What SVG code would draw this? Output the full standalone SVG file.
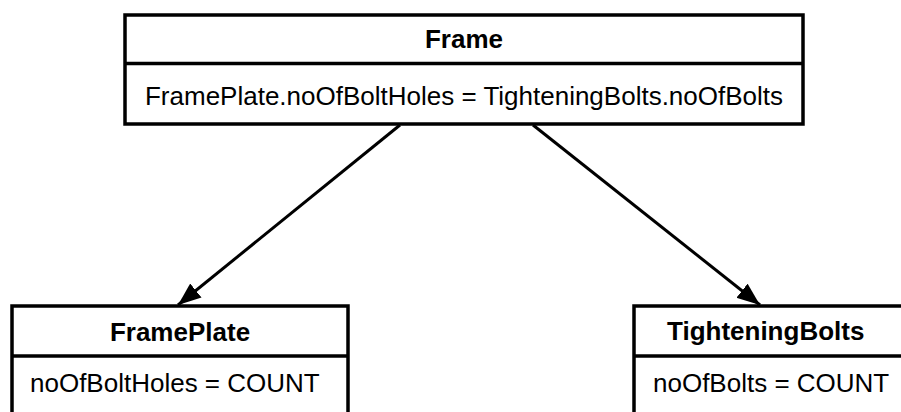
<svg xmlns="http://www.w3.org/2000/svg" width="901" height="412" viewBox="0 0 901 412">
  <defs>
    <style>
      .box { fill: #ffffff; stroke: #000000; stroke-width: 3.5; }
      .div { stroke: #000000; stroke-width: 3.5; }
      .title { font-family: "Liberation Sans", Arial, sans-serif; font-size: 26px; font-weight: bold; fill: #000000; }
      .attr { font-family: "Liberation Sans", Arial, sans-serif; font-size: 26px; fill: #000000; }
      .link { stroke: #000000; stroke-width: 3; fill: none; marker-end: url(#arrow); }
    </style>
    <marker id="arrow" markerUnits="userSpaceOnUse" markerWidth="24" markerHeight="20" refX="23" refY="9" orient="auto">
      <path d="M0,0 L23,9 L0,18 Z" fill="#000000"/>
    </marker>
  </defs>

  <!-- connectors -->
  <g id="connectors">
    <line class="link" x1="400" y1="125" x2="178" y2="305"/>
    <line class="link" x1="533" y1="125" x2="760" y2="305"/>
  </g>

  <!-- Frame -->
  <g id="frame">
    <rect class="box" x="125" y="15" width="678" height="109"/>
    <line class="div" x1="125" y1="63.5" x2="803" y2="63.5"/>
    <text class="title" x="464" y="48" text-anchor="middle">Frame</text>
    <text class="attr" x="464" y="105" text-anchor="middle">FramePlate.noOfBoltHoles = TighteningBolts.noOfBolts</text>
  </g>

  <!-- FramePlate -->
  <g id="frameplate">
    <rect class="box" x="12" y="306" width="336" height="120"/>
    <line class="div" x1="12" y1="356" x2="348" y2="356"/>
    <text class="title" x="180" y="341" text-anchor="middle">FramePlate</text>
    <text class="attr" x="30" y="392">noOfBoltHoles = COUNT</text>
  </g>

  <!-- TighteningBolts -->
  <g id="tighteningbolts">
    <rect class="box" x="634" y="306" width="290" height="120"/>
    <line class="div" x1="634" y1="356" x2="924" y2="356"/>
    <text class="title" x="667" y="340">TighteningBolts</text>
    <text class="attr" x="653" y="392">noOfBolts = COUNT</text>
  </g>
</svg>
